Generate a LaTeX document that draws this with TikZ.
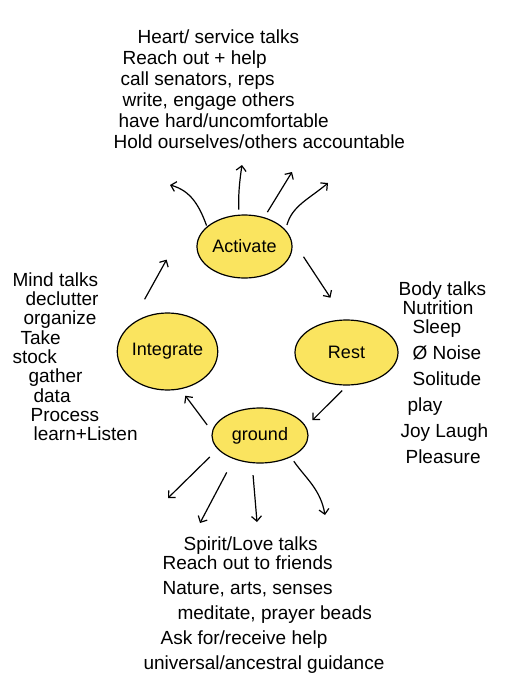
\documentclass[tikz,border=0pt]{standalone}
\usepackage{fontspec}
\setmainfont{Liberation Sans}
\usetikzlibrary{shapes.geometric,arrows.meta}
\definecolor{marker}{RGB}{250,228,95}

\begin{document}
\begin{tikzpicture}[
                            x=1pt, y=-1pt,
                            >={Straight Barb[length=5pt,width=10pt]},
                            line width=1.2pt,
                            phase/.style={ellipse, draw, fill=marker, inner sep=0pt, font=\fontsize{18}{20}\selectfont},
                            talk/.style={align=left, anchor=north west, inner sep=0pt},
                            flow/.style={->, shorten <=3pt}
                        ]
                        \useasboundingbox (0,0) rectangle (514,685);

                        % Blocks
                        \node [phase, minimum width=95pt, minimum height=63pt] (activate) at (244.5,246.5) {Activate};
                        \node [phase, minimum width=103pt, minimum height=65pt] (rest) at (346.5,352.5) {Rest};
                        \node [phase, minimum width=99pt, minimum height=77pt] (integrate) at (167.5,351.5) {Integrate};
                        \node [phase, minimum width=96pt, minimum height=55pt] (ground) at (260,435.5) {ground};

                        % Talks
                        \node [talk, font=\fontsize{19}{21}\selectfont] (heart) at (113,29) {\hspace*{24pt}Heart/ service talks\\
                            \hspace*{9pt}Reach out + help\\
                            \hspace*{7pt}call senators, reps\\
                            \hspace*{9pt}write, engage others\\
                            \hspace*{5pt}have hard/uncomfortable\\
                            Hold ourselves/others accountable};
                        \node [talk, font=\fontsize{19}{19.3}\selectfont] (mind) at (12,272) {Mind talks\\
                            \hspace*{13pt}declutter\\
                            \hspace*{11pt}organize\\
                            \hspace*{8pt}Take\\
                            stock\\
                            \hspace*{16pt}gather\\
                            \hspace*{21pt}data\\
                            \hspace*{18pt}Process\\
                            \hspace*{21pt}learn+Listen};
                        \node [talk, font=\fontsize{19}{26}\selectfont] (body) at (398,281) {Body talks\\[-7pt]
                            \hspace*{4pt}Nutrition\\[-7pt]
                            \hspace*{14pt}Sleep\\
                            \hspace*{14pt}Ø Noise\\
                            \hspace*{14pt}Solitude\\
                            \hspace*{9pt}play\\
                            \hspace*{2pt}Joy Laugh\\
                            \hspace*{7pt}Pleasure};
                        \node [talk, font=\fontsize{19}{25}\selectfont] (spirit) at (143,536) {\hspace*{40pt}Spirit/Love talks\\[-6pt]
                            \hspace*{19pt}Reach out to friends\\
                            \hspace*{19pt}Nature, arts, senses\\
                            \hspace*{34pt}meditate, prayer beads\\
                            \hspace*{17pt}Ask for/receive help\\
                            universal/ancestral guidance};

                        % Free ends
                        \coordinate (up1) at (170,185);
                        \coordinate (up2) at (242,165);
                        \coordinate (up3) at (292,172);
                        \coordinate (up4) at (328,183);
                        \coordinate (down1) at (168,498);
                        \coordinate (down2) at (200,523);
                        \coordinate (down3) at (257,522);
                        \coordinate (down4) at (325,515);

                        % Connections
                        \draw [flow, shorten <=24pt, shorten >=26pt] (activate.12) -- (rest.93);
                        \draw [flow, shorten <=7pt, shorten >=9pt] (rest.-89) -- (ground.11);
                        \draw [flow, shorten <=8pt, shorten >=8pt] (ground.175) -- (integrate.-71);
                        \draw [flow, shorten <=29pt, shorten >=15pt] (integrate.144) -- ([xshift=-22.5pt]activate.west);

                        \draw [flow, shorten <=1pt] (activate.152) to[out=110, in=-15] (up1);
                        \draw [flow, shorten <=5pt] (activate.100) to[bend left=5] (up2);
                        \draw [flow, shorten <=6pt] (activate.56) -- (up3);
                        \draw [flow, shorten <=5pt] (activate.22) to[out=75, in=220] (up4);

                        \draw [flow, shorten <=11pt] (ground.-162) -- (down1);
                        \draw [flow, shorten <=15pt] (ground.-138) -- (down2);
                        \draw [flow, shorten <=12pt] (ground.-106) -- (down3);
                        \draw [flow, shorten <=5pt] (ground.-35) to[out=-55, in=100] (down4);
                    \end{tikzpicture}
\end{document}
